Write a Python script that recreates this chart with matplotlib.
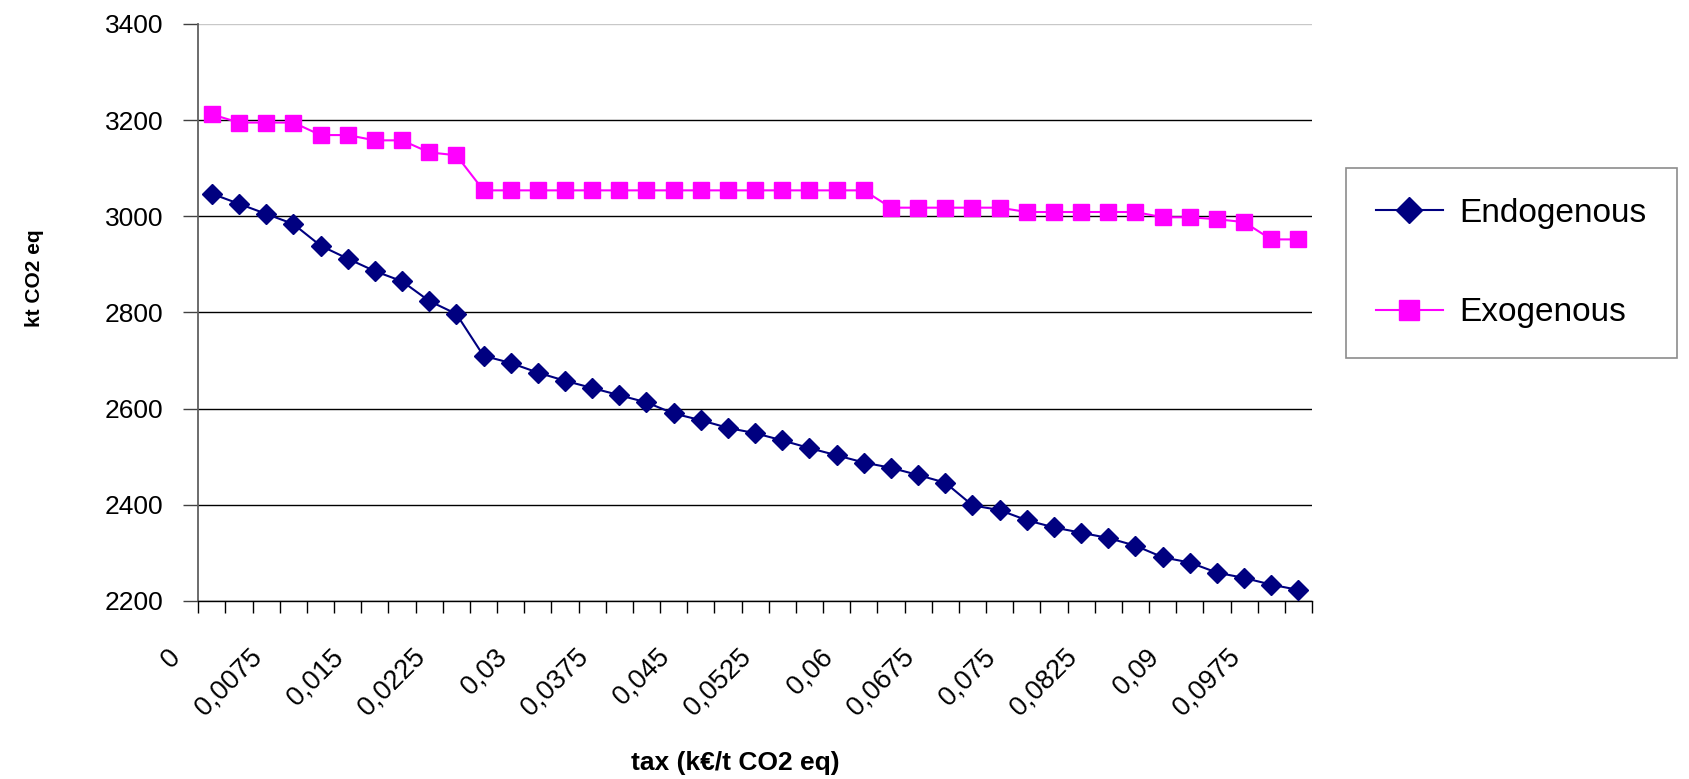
import numpy as np
import matplotlib
matplotlib.use('Agg')
import matplotlib.pyplot as plt
from matplotlib.transforms import ScaledTranslation

plt.rcParams['font.family'] = ['Liberation Sans', 'DejaVu Sans']

# tax levels (k€/t CO2 eq), one category per point
tax = [0, 0.0025, 0.005, 0.0075, 0.01, 0.0125, 0.015, 0.0175, 0.02, 0.0225,
       0.025, 0.0275, 0.03, 0.0325, 0.035, 0.0375, 0.04, 0.0425, 0.045, 0.0475,
       0.05, 0.0525, 0.055, 0.0575, 0.06, 0.0625, 0.065, 0.0675, 0.07, 0.0725,
       0.075, 0.0775, 0.08, 0.0825, 0.085, 0.0875, 0.09, 0.0925, 0.095, 0.0975,
       0.1]
endogenous = [3047, 3026, 3005, 2984, 2939, 2912, 2886, 2865, 2824, 2797,
              2710, 2695, 2675, 2658, 2643, 2628, 2613, 2590, 2576, 2560,
              2549, 2534, 2518, 2503, 2488, 2477, 2462, 2446, 2399, 2389,
              2368, 2353, 2342, 2331, 2315, 2291, 2280, 2259, 2248, 2234,
              2223]
exogenous = [3212, 3195, 3195, 3195, 3169, 3169, 3158, 3158, 3133, 3127,
             3054, 3054, 3054, 3054, 3054, 3054, 3054, 3054, 3054, 3054,
             3054, 3054, 3054, 3054, 3054, 3018, 3018, 3018, 3018, 3018,
             3009, 3009, 3009, 3009, 3009, 2998, 2998, 2994, 2988, 2952,
             2952]
yticks = [2200, 2400, 2600, 2800, 3000, 3200, 3400]
label_every = 3

fig = plt.figure(figsize=(16.89, 7.79), dpi=100)
ax = fig.add_axes([0.1174, 0.2285, 0.6594, 0.7407])

x = np.arange(len(tax))
ax.plot(x, endogenous, color='#000080', lw=1.5, marker='D', ms=10.5,
        label='Endogenous', zorder=3)
ax.plot(x, exogenous, color='#FF00FF', lw=1.5, marker='s', ms=11.5,
        label='Exogenous', zorder=3)

ax.set_ylim(yticks[0], yticks[-1])
ax.set_xlim(-0.5, len(tax) - 0.5)
ax.set_yticks(yticks)
ax.set_yticklabels([str(v) for v in yticks], fontsize=19)
ax.tick_params(axis='y', length=11, width=1, color='#404040', pad=14)
ax.yaxis.grid(True, color='black', lw=1)
ax.get_ygridlines()[-1].set_color('#c8c8c8')
ax.set_axisbelow(True)

# category boundaries carry the tick marks, labels sit on every 3rd category
ax.set_xticks(np.arange(len(tax) + 1) - 0.5)
ax.set_xticklabels([])
ax.tick_params(axis='x', which='major', length=8.6, width=1, color='black')
lab_pos = x[::label_every]
ax.set_xticks(lab_pos, minor=True)
ax.set_xticklabels([f'{tax[i]:g}'.replace('.', ',') for i in lab_pos],
                   minor=True, rotation=45, ha='right', fontsize=19.5)
ax.tick_params(axis='x', which='minor', length=0, pad=31)
offset = ScaledTranslation(-0.26, 0, fig.dpi_scale_trans)
for lab in ax.xaxis.get_minorticklabels():
    lab.set_transform(lab.get_transform() + offset)

for s in ['top', 'right']:
    ax.spines[s].set_visible(False)
ax.spines['left'].set_color('#606060')
ax.spines['left'].set_linewidth(1.3)
ax.spines['bottom'].set_color('black')
ax.spines['bottom'].set_linewidth(1)

fig.text(34 / 1689, 1 - 278 / 779, 'kt CO2 eq', rotation=90, fontsize=15,
         fontweight='bold', ha='center', va='center')
fig.text(735 / 1689, 1 - 763 / 779, 'tax (k€/t CO2 eq)', fontsize=19,
         fontweight='bold', ha='center', va='center')

leg = fig.legend(loc='upper left', bbox_to_anchor=(1346 / 1689, 1 - 168 / 779),
                 fontsize=24, frameon=True, fancybox=False, borderpad=0.9,
                 labelspacing=2.05, handlelength=2.0, handletextpad=0.5,
                 markerscale=1.3, borderaxespad=0)
leg.get_frame().set_edgecolor('#707070')
leg.get_frame().set_linewidth(1.2)

fig.savefig('out.png', dpi=100)
